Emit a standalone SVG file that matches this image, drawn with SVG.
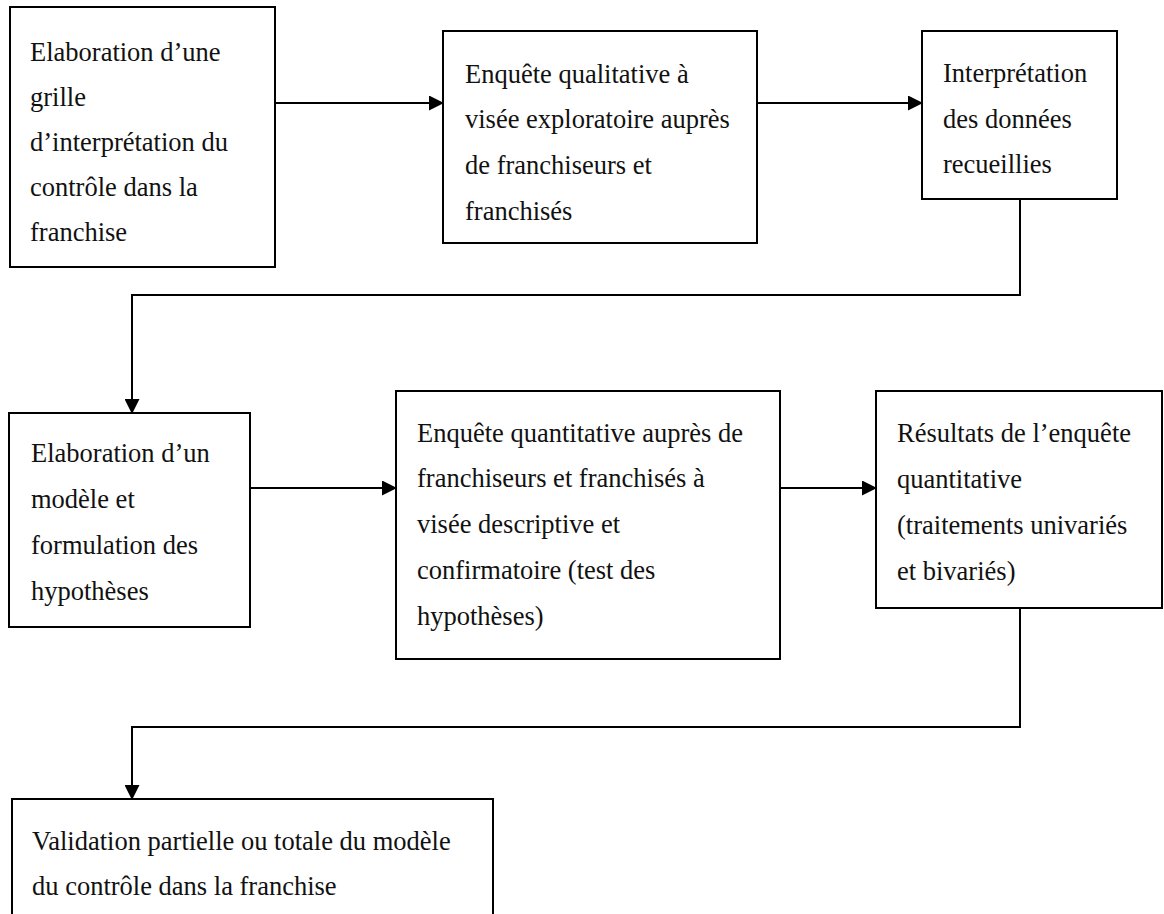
<svg xmlns="http://www.w3.org/2000/svg" width="1164" height="914" viewBox="0 0 1164 914">
  <style>
    .box { fill: #ffffff; stroke: #000000; stroke-width: 2; }
    .lbl { font-family: "Liberation Serif", "Times New Roman", serif; font-size: 26.5px; fill: #111111; }
    .conn { fill: none; stroke: #000000; stroke-width: 2; }
  </style>
  <defs>
    <marker id="arrow" markerUnits="userSpaceOnUse" markerWidth="15" markerHeight="15" refX="14" refY="7.5" orient="auto">
      <path d="M0,0 L15,7.5 L0,15 z" fill="#000000"/>
    </marker>
  </defs>
  <rect width="1164" height="914" fill="#ffffff"/>

  <g id="connectors">
    <line class="conn" x1="275" y1="103" x2="443" y2="103" marker-end="url(#arrow)"/>
    <line class="conn" x1="757" y1="103" x2="922" y2="103" marker-end="url(#arrow)"/>
    <polyline class="conn" points="1020,199 1020,295 132,295 132,413" marker-end="url(#arrow)"/>
    <line class="conn" x1="250" y1="488" x2="396" y2="488" marker-end="url(#arrow)"/>
    <line class="conn" x1="780" y1="488" x2="876" y2="488" marker-end="url(#arrow)"/>
    <polyline class="conn" points="1020,608 1020,727 132,727 132,799" marker-end="url(#arrow)"/>
  </g>

  <g id="node1">
    <rect class="box" x="10" y="7" width="265" height="260"/>
    <text class="lbl" x="30" y="61">Elaboration d’une</text>
    <text class="lbl" x="30" y="106">grille</text>
    <text class="lbl" x="30" y="151">d’interprétation du</text>
    <text class="lbl" x="30" y="196">contrôle dans la</text>
    <text class="lbl" x="30" y="241">franchise</text>
  </g>

  <g id="node2">
    <rect class="box" x="443" y="31" width="314" height="212"/>
    <text class="lbl" x="465" y="83">Enquête qualitative à</text>
    <text class="lbl" x="465" y="128">visée exploratoire auprès</text>
    <text class="lbl" x="465" y="174">de franchiseurs et</text>
    <text class="lbl" x="465" y="220">franchisés</text>
  </g>

  <g id="node3">
    <rect class="box" x="922" y="31" width="195" height="168"/>
    <text class="lbl" x="943" y="82">Interprétation</text>
    <text class="lbl" x="943" y="128">des données</text>
    <text class="lbl" x="943" y="173">recueillies</text>
  </g>

  <g id="node4">
    <rect class="box" x="9" y="413" width="241" height="214"/>
    <text class="lbl" x="31" y="462">Elaboration d’un</text>
    <text class="lbl" x="31" y="508">modèle et</text>
    <text class="lbl" x="31" y="554">formulation des</text>
    <text class="lbl" x="31" y="600">hypothèses</text>
  </g>

  <g id="node5">
    <rect class="box" x="396" y="391" width="384" height="268"/>
    <text class="lbl" x="417" y="442">Enquête quantitative auprès de</text>
    <text class="lbl" x="417" y="487">franchiseurs et franchisés à</text>
    <text class="lbl" x="417" y="533">visée descriptive et</text>
    <text class="lbl" x="417" y="579">confirmatoire (test des</text>
    <text class="lbl" x="417" y="625">hypothèses)</text>
  </g>

  <g id="node6">
    <rect class="box" x="876" y="391" width="286" height="217"/>
    <text class="lbl" x="897" y="442">Résultats de l’enquête</text>
    <text class="lbl" x="897" y="488">quantitative</text>
    <text class="lbl" x="897" y="534">(traitements univariés</text>
    <text class="lbl" x="897" y="580">et bivariés)</text>
  </g>

  <g id="node7">
    <rect class="box" x="12" y="799" width="481" height="130"/>
    <text class="lbl" x="32" y="850">Validation partielle ou totale du modèle</text>
    <text class="lbl" x="32" y="895">du contrôle dans la franchise</text>
  </g>
</svg>
